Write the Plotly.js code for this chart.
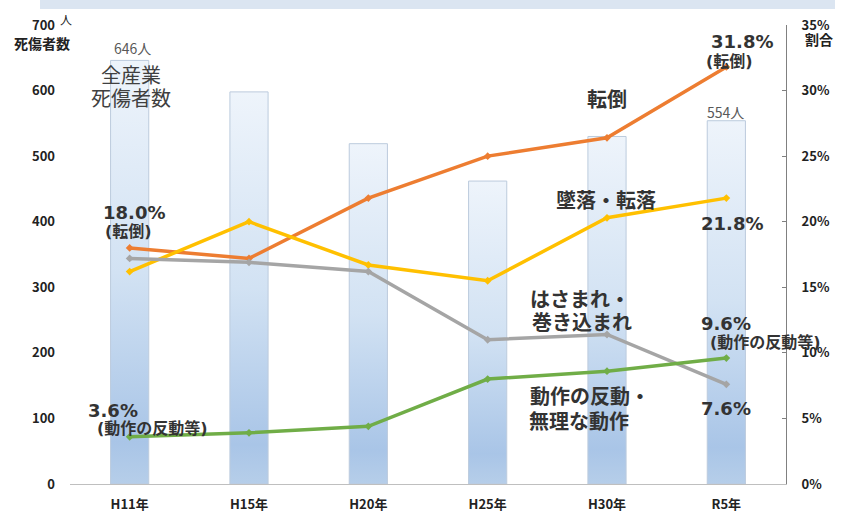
<!DOCTYPE html>
<html>
<head>
<meta charset="utf-8">
<script src="https://cdn.plot.ly/plotly-3.0.1.min.js"></script>
<style>
html,body{margin:0;padding:0;background:#ffffff;}
#chart{width:849px;height:513px;}
</style>
</head>
<body>
<div id="chart"></div>
<script>
// ---- data ----
const categories = ['H11年', 'H15年', 'H20年', 'H25年', 'H30年', 'R5年'];
const allIndustry = [646, 598, 519, 462, 530, 554];      // 全産業死傷者数 (人)
const tentou = [18.0, 17.2, 21.8, 25.0, 26.4, 31.8];      // 転倒 (%)
const tsuiraku = [16.2, 20.0, 16.7, 15.5, 20.3, 21.8];    // 墜落・転落 (%)
const hasamare = [17.2, 16.9, 16.2, 11.0, 11.4, 7.6];     // はさまれ・巻き込まれ (%)
const dousa = [3.6, 3.9, 4.4, 8.0, 8.6, 9.6];             // 動作の反動・無理な動作 (%)
const leftTicks = [0, 100, 200, 300, 400, 500, 600, 700];
const rightTicks = [0, 5, 10, 15, 20, 25, 30, 35];
const rightTickText = ['0%', '5%', '10%', '15%', '20%', '25%', '30%', '35%'];

// ---- layout helpers (pixel -> paper) ----
const L = 70, R = 786, T = 25, B = 484;
const px = x => (x - L) / (R - L);
const py = y => (B - y) / (B - T);

const JP = 'Noto Sans CJK JP, sans-serif';
const NUM = 'DejaVu Sans, Noto Sans CJK JP, sans-serif';
const TICK = 'Liberation Sans Narrow, Noto Sans CJK JP, sans-serif';

function ann(text, x, y, size, opts) {
  opts = opts || {};
  return {
    text: text, xref: 'paper', yref: 'paper', x: px(x), y: py(y),
    xanchor: opts.xanchor || 'center', yanchor: 'middle', showarrow: false,
    font: {family: opts.family || JP, size: size, color: opts.color || '#333333',
           weight: opts.weight === undefined ? 700 : opts.weight}
  };
}

function lineTrace(name, vals, color) {
  return {
    type: 'scatter', mode: 'lines+markers', name: name,
    x: categories, y: vals, yaxis: 'y2',
    line: {color: color, width: 3.5},
    marker: {color: color, size: 6, symbol: 'diamond'},
    hoverinfo: 'skip'
  };
}

const traces = [
  {
    type: 'bar', name: '全産業死傷者数', x: categories, y: allIndustry,
    width: 0.32,
    marker: {color: '#d6e3f3', line: {color: '#bccbdd', width: 1}},
    hoverinfo: 'skip'
  },
  lineTrace('転倒', tentou, '#ED7D31'),
  lineTrace('墜落・転落', tsuiraku, '#FFC000'),
  lineTrace('はさまれ・巻き込まれ', hasamare, '#A5A5A5'),
  lineTrace('動作の反動・無理な動作', dousa, '#70AD47')
];

const annotations = [
  ann('人', 66, 20, 12, {weight: 400, color: '#222'}),
  ann('死傷者数', 42, 43, 14, {color: '#222'}),
  ann('割合', 819, 39, 14, {color: '#222'}),
  ann('646人', 132, 48, 14, {weight: 400, color: '#595959'}),
  ann('全産業', 131, 74, 20, {weight: 400, color: '#404040'}),
  ann('死傷者数', 131, 97, 20, {weight: 400, color: '#404040'}),
  ann('554人', 725, 112, 14, {weight: 400, color: '#595959'}),
  ann('31.8%', 742, 41, 18, {family: NUM}),
  ann('(転倒)', 729, 61, 16, {family: NUM}),
  ann('転倒', 607, 98, 20),
  ann('墜落・転落', 606, 199, 20),
  ann('21.8%', 732, 223, 18, {family: NUM}),
  ann('18.0%', 134, 213, 18, {family: NUM}),
  ann('(転倒)', 128, 232, 16, {family: NUM}),
  ann('はさまれ・', 580, 298, 20),
  ann('巻き込まれ', 582, 322, 20),
  ann('9.6%', 726, 323, 18, {family: NUM}),
  ann('(動作の反動等)', 765, 342, 16, {family: NUM}),
  ann('動作の反動・', 590, 395, 20),
  ann('無理な動作', 579, 420, 20),
  ann('7.6%', 726, 408, 18, {family: NUM}),
  ann('3.6%', 113, 410, 18, {family: NUM}),
  ann('(動作の反動等)', 152, 428, 16, {family: NUM})
];

const layout = {
  width: 849, height: 513,
  margin: {l: L, r: 849 - R, t: T, b: 513 - B},
  paper_bgcolor: '#ffffff', plot_bgcolor: '#ffffff',
  showlegend: false,
  bargap: 0,
  xaxis: {
    type: 'category', showgrid: false, zeroline: false,
    showline: true, linecolor: '#bfbfbf', linewidth: 1,
    ticks: '', ticklabelstandoff: 8,
    tickfont: {family: TICK, size: 13, color: '#222', weight: 700}
  },
  yaxis: {
    range: [0, 700], tickvals: leftTicks, showgrid: false, zeroline: false,
    showline: false, ticks: '', ticklabelstandoff: 14,
    tickfont: {family: TICK, size: 13, color: '#222', weight: 700}
  },
  yaxis2: {
    overlaying: 'y', side: 'right', range: [0, 35],
    tickvals: rightTicks, ticktext: rightTickText,
    showgrid: false, zeroline: false,
    showline: true, linecolor: '#808080', linewidth: 1,
    ticks: 'inside', ticklen: 4, tickcolor: '#808080', ticklabelstandoff: 12,
    tickfont: {family: TICK, size: 13, color: '#222', weight: 700}
  },
  shapes: [
    {type: 'rect', xref: 'paper', yref: 'paper', x0: px(40), x1: px(835), y0: py(9), y1: py(-2),
     fillcolor: '#dbe5f1', line: {width: 0}, layer: 'below'}
  ],
  annotations: annotations
};

Plotly.newPlot('chart', traces, layout, {staticPlot: true, displayModeBar: false}).then(function (gd) {
  // vertical gradient fill for the bars (pale at top, blue at base)
  const svg = gd.querySelector('.main-svg');
  const ns = 'http://www.w3.org/2000/svg';
  let defs = svg.querySelector('defs');
  if (!defs) { defs = document.createElementNS(ns, 'defs'); svg.insertBefore(defs, svg.firstChild); }
  const grad = document.createElementNS(ns, 'linearGradient');
  grad.setAttribute('id', 'barGrad');
  grad.setAttribute('x1', '0'); grad.setAttribute('y1', '0');
  grad.setAttribute('x2', '0'); grad.setAttribute('y2', '1');
  [['0', '#eef4fb'], ['0.5', '#d2e2f3'], ['0.9', '#a9c5e7'], ['1', '#b6cee9']].forEach(function (s) {
    const st = document.createElementNS(ns, 'stop');
    st.setAttribute('offset', s[0]);
    st.setAttribute('stop-color', s[1]);
    grad.appendChild(st);
  });
  defs.appendChild(grad);
  gd.querySelectorAll('.barlayer .point path').forEach(function (p) {
    p.style.fill = 'url(#barGrad)';
    p.style.fillOpacity = '1';
  });
});
</script>
</body>
</html>
